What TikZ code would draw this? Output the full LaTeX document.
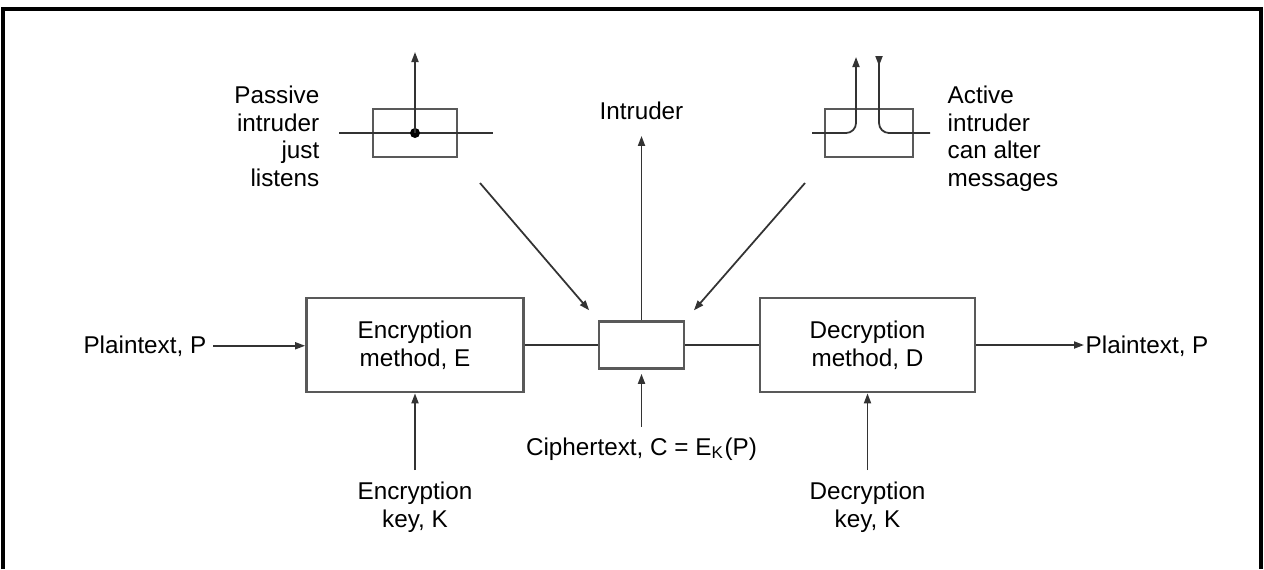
\documentclass[tikz,border=0pt]{standalone}
\usepackage{fontspec}
\setmainfont{Liberation Sans}
\usetikzlibrary{arrows.meta}
\begin{document}
\begin{tikzpicture}[x=0.01cm,y=-0.01cm,
  txt/.style={font=\fontsize{6.9pt}{7.9pt}\selectfont, inner sep=0pt, text=black},
  box/.style={draw=black!65, line width=0.75pt, fill=white, inner sep=0pt},
  ln/.style={draw=black!80, line width=0.5pt},
  arr/.style={ln, -{Triangle[length=0.1cm,width=0.07cm]}},
  rarr/.style={ln, {Triangle[reversed,length=0.1cm,width=0.07cm]}-},
]
\useasboundingbox (0,0) rectangle (1264,569);
% frame
\draw[line width=1pt] (3,569) -- (3,9) -- (1261,9) -- (1261,569);

% main boxes
\node[box,txt,draw=black!65,align=center,minimum width=2.17cm,minimum height=0.94cm] (enc) at (415,345) {Encryption\\method, E};
\node[box,txt,draw=black!65,align=center,minimum width=2.15cm,minimum height=0.94cm] (dec) at (867.5,345) {Decryption\\method, D};
\node[box,minimum width=0.85cm,minimum height=0.47cm] (mid) at (641.5,345) {};
\node[box,minimum width=0.84cm,minimum height=0.48cm] (pbox) at (415,133) {};
\node[box,minimum width=0.88cm,minimum height=0.48cm] (abox) at (869,133) {};

% texts
\node[txt,anchor=base east,inner xsep=0.06cm] (ptin) at (213,353) {Plaintext, P};
\node[txt,anchor=base west,inner xsep=0.01cm] (ptout) at (1084,353) {Plaintext, P};
\node[txt,anchor=base] (intr) at (641.5,119) {Intruder};
\node[txt,anchor=base] (ciph) at (641.5,455) {Ciphertext, C = E\textsubscript{K}(P)};
\node[txt,align=center,anchor=north] (ekey) at (415,481) {Encryption\\key, K};
\node[txt,align=center,anchor=north] (dkey) at (867.5,481) {Decryption\\key, K};
\node[txt,align=right,anchor=north east] (ptxt) at (320,85) {Passive\\intruder\\just\\listens};
\node[txt,align=left,anchor=north west] (atxt) at (947,85) {Active\\intruder\\can alter\\messages};

% free ends
\coordinate (pl) at (339,133);
\coordinate (pr) at (493,133);
\coordinate (pup) at (415,52);
\coordinate (pfrom) at (480,183);
\coordinate (afrom) at (805,183);
\coordinate (al) at (812,133);
\coordinate (aup) at (856,57);
\coordinate (atop) at (879,56);
\coordinate (ar) at (930,133);

% passive intruder
\draw[ln] (pl) -- (pr);
\node[circle,fill=black,inner sep=0pt,minimum size=0.1cm] (dot) at (pbox.center) {};
\draw[arr] (dot.center) -- (pup);

% active intruder
\draw[arr,rounded corners=0.1cm] (al) -- (al -| aup) -- (aup);
\draw[rarr,rounded corners=0.1cm] (atop) -- (atop |- ar) -- (ar);

% main flow
\draw[arr] (ptin.east) -- (ptin.east -| enc.west);
\draw[ln] (enc.east) -- (mid.west);
\draw[ln] (mid.east) -- (dec.west);
\draw[arr] (dec.east) -- (dec.east -| ptout.west);
\draw[arr,shorten >=0.16cm] (mid.north) -- (intr.south);
\draw[arr,shorten <=0.10cm,shorten >=0.04cm] (ciph.north) -- (mid.south);
\draw[arr,shorten <=0.11cm] (ekey.north) -- (enc.south);
\draw[arr,shorten <=0.11cm] (dkey.north) -- (dec.south);
\draw[arr,shorten >=0.13cm] (pfrom) -- (mid.north west);
\draw[arr,shorten >=0.13cm] (afrom) -- (mid.north east);
\end{tikzpicture}
\end{document}
